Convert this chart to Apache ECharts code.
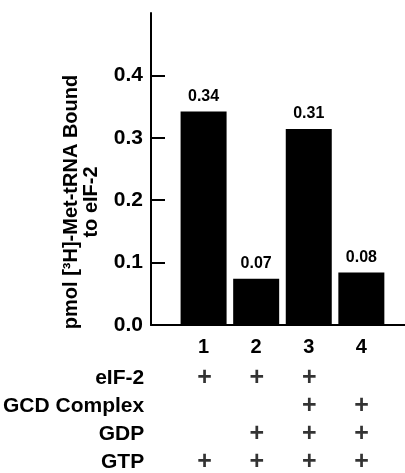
<!DOCTYPE html>
<html>
<head>
<meta charset="utf-8">
<script src="https://cdn.jsdelivr.net/npm/echarts@6/dist/echarts.min.js"></script>
<style>
  html, body { margin: 0; padding: 0; background: #fff; }
  #chart { width: 405px; height: 473px; }
</style>
</head>
<body>
<div id="chart"></div>
<script>
// lanes along the x axis
const categories = ["1", "2", "3", "4"];
// pmol bound
const values = [0.342, 0.074, 0.314, 0.084];
const yTicks = [0, 0.1, 0.2, 0.3, 0.4];

// table under the chart: 1 = "+"
const rows = ["eIF-2", "GCD Complex", "GDP", "GTP"];
const eif2 = [1, 1, 1, 0];
const gcdComplex = [0, 0, 1, 1];
const gdp = [0, 1, 1, 1];
const gtp = [1, 1, 1, 1];

const font = "Liberation Sans";
const xPos = categories.map((c, i) => i + 1);

const plusData = [];
[eif2, gcdComplex, gdp, gtp].forEach((flags, r) => {
  flags.forEach((f, i) => {
    if (f) plusData.push([xPos[i], rows[r]]);
  });
});

const chart = echarts.init(document.getElementById("chart"));
const option = {
  animation: false,
  grid: [
    { left: 151, right: 0, top: 13, bottom: 148 }, // bars
    { left: 151, right: 0, top: 378, bottom: 10 }, // +/- table
  ],
  xAxis: [
    {
      gridIndex: 0,
      type: "value",
      min: 0,
      max: 4.83,
      interval: 1,
      splitLine: { show: false },
      axisTick: { show: false },
      axisLine: { lineStyle: { color: "#000", width: 2 } },
      axisLabel: {
        customValues: xPos,
        formatter: (v) => categories[v - 1] || "",
        color: "#000",
        fontFamily: font,
        fontWeight: "bold",
        fontSize: 20,
        margin: 12,
      },
    },
    { gridIndex: 1, type: "value", min: 0, max: 4.83, show: false },
  ],
  yAxis: [
    {
      gridIndex: 0,
      type: "value",
      min: 0,
      max: 0.5,
      interval: 0.1,
      splitLine: { show: false },
      axisLine: { show: true, lineStyle: { color: "#000", width: 2 } },
      axisTick: {
        inside: true,
        length: 14,
        customValues: yTicks,
        lineStyle: { color: "#000", width: 2 },
      },
      axisLabel: {
        customValues: yTicks,
        formatter: (v) => v.toFixed(1),
        color: "#000",
        fontFamily: font,
        fontWeight: "bold",
        fontSize: 21,
        margin: 8,
      },
      name: "pmol [³H]-Met-tRNA Bound\nto eIF-2",
      nameLocation: "middle",
      nameRotate: 90,
      nameGap: 50,
      nameTextStyle: {
        color: "#000",
        fontFamily: font,
        fontWeight: "bold",
        fontSize: 20,
        lineHeight: 20,
        align: "center",
        padding: [0, 66, 0, 0],
      },
    },
    {
      gridIndex: 1,
      type: "category",
      data: rows,
      inverse: true,
      boundaryGap: false,
      axisLine: { show: false },
      axisTick: { show: false },
      axisLabel: {
        color: "#000",
        fontFamily: font,
        fontWeight: "bold",
        fontSize: 21,
        margin: 8,
      },
    },
  ],
  series: [
    {
      type: "bar",
      xAxisIndex: 0,
      yAxisIndex: 0,
      barWidth: 46,
      itemStyle: { color: "#000" },
      label: {
        show: true,
        position: "top",
        distance: 7,
        formatter: (p) => p.value[1].toFixed(2),
        color: "#000",
        fontFamily: font,
        fontWeight: "bold",
        fontSize: 16,
      },
      data: values.map((v, i) => [xPos[i], v]),
    },
    {
      type: "scatter",
      xAxisIndex: 1,
      yAxisIndex: 1,
      symbolSize: 0,
      label: {
        show: true,
        position: "inside",
        formatter: "+",
        color: "#000",
        fontFamily: font,
        fontWeight: "bold",
        fontSize: 25,
      },
      data: plusData,
    },
  ],
};
chart.setOption(option);
</script>
</body>
</html>
